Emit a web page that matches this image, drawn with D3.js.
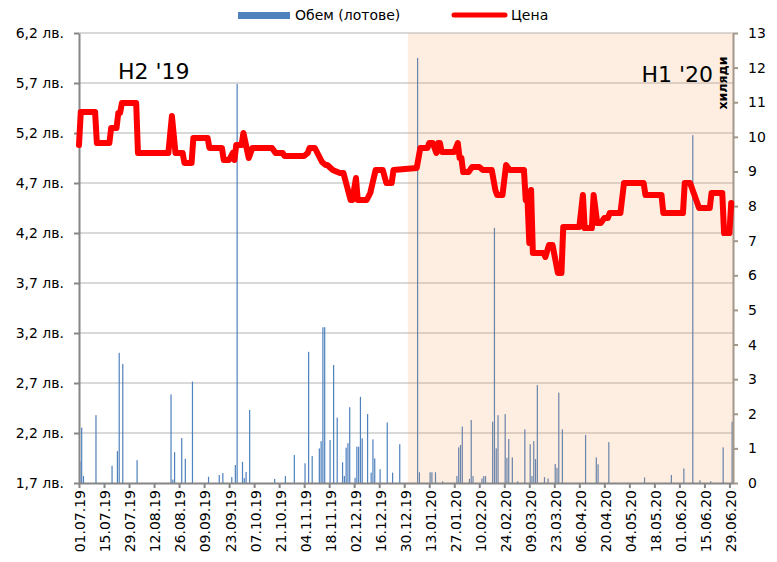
<!DOCTYPE html>
<html>
<head>
<meta charset="utf-8">
<script src="https://cdn.jsdelivr.net/npm/d3@7"></script>
<style>
  body { margin: 0; background: #fff; }
  text { font-family: "DejaVu Sans", sans-serif; fill: #000; }
</style>
</head>
<body>
<div id="viz"></div>
<script>
const width = 777;
const height = 562;
const plot = { left: 79, right: 733, top: 33, bottom: 483 };

// Цена - точки от линията (дата, лв.)
const priceDates = [
  "2019-07-01","2019-07-02","2019-07-10","2019-07-11","2019-07-18","2019-07-19","2019-07-22","2019-07-23",
  "2019-07-24","2019-07-25","2019-08-02","2019-08-03","2019-08-20","2019-08-22","2019-08-24","2019-08-28",
  "2019-08-29","2019-09-02","2019-09-03","2019-09-11","2019-09-12","2019-09-19","2019-09-20","2019-09-23",
  "2019-09-25","2019-09-26","2019-09-27","2019-09-30","2019-10-01","2019-10-04","2019-10-06","2019-10-17",
  "2019-10-19","2019-10-23","2019-10-24","2019-11-04","2019-11-06","2019-11-07","2019-11-10","2019-11-14",
  "2019-11-16","2019-11-17","2019-11-20","2019-11-24","2019-11-26","2019-11-30","2019-12-01","2019-12-03",
  "2019-12-04","2019-12-09","2019-12-11","2019-12-14","2019-12-18","2019-12-20","2019-12-23","2019-12-24",
  "2020-01-06","2020-01-08","2020-01-12","2020-01-13","2020-01-15","2020-01-17","2020-01-18","2020-01-19",
  "2020-01-20","2020-01-27","2020-01-29","2020-01-30","2020-01-31","2020-02-01","2020-02-04","2020-02-06",
  "2020-02-10","2020-02-12","2020-02-17","2020-02-19","2020-02-20","2020-02-23","2020-02-25","2020-02-27",
  "2020-03-06","2020-03-07","2020-03-08","2020-03-09","2020-03-10","2020-03-11","2020-03-17","2020-03-18",
  "2020-03-20","2020-03-22","2020-03-25","2020-03-27","2020-03-28","2020-04-06","2020-04-08","2020-04-09",
  "2020-04-13","2020-04-14","2020-04-16","2020-04-18","2020-04-20","2020-04-22","2020-04-23","2020-04-29",
  "2020-05-01","2020-05-12","2020-05-13","2020-05-22","2020-05-23","2020-06-03","2020-06-04","2020-06-07",
  "2020-06-09","2020-06-12","2020-06-18","2020-06-19","2020-06-25","2020-06-26","2020-06-29","2020-06-30"
];
const prices = [
  5.08, 5.41, 5.41, 5.10, 5.10, 5.25, 5.25, 5.40,
  5.40, 5.50, 5.50, 5.00, 5.00, 5.37, 5.00, 5.00,
  4.90, 4.90, 5.15, 5.15, 5.05, 5.05, 4.93, 4.93,
  5.00, 4.93, 5.08, 5.08, 5.20, 4.95, 5.05, 5.05,
  5.00, 5.00, 4.97, 4.97, 5.00, 5.05, 5.05, 4.91,
  4.88, 4.88, 4.83, 4.80, 4.80, 4.53, 4.53, 4.75,
  4.53, 4.53, 4.60, 4.83, 4.83, 4.70, 4.70, 4.83,
  4.85, 5.05, 5.05, 5.10, 5.10, 5.00, 5.10, 5.10,
  5.01, 5.01, 5.10, 4.95, 4.95, 4.81, 4.81, 4.86,
  4.86, 4.83, 4.83, 4.63, 4.58, 4.58, 4.88, 4.83,
  4.83, 4.53, 4.53, 4.10, 4.63, 4.00, 4.00, 3.96,
  4.08, 4.08, 3.80, 3.80, 4.26, 4.26, 4.58, 4.25,
  4.25, 4.58, 4.30, 4.30, 4.35, 4.35, 4.40, 4.40,
  4.70, 4.70, 4.58, 4.58, 4.40, 4.40, 4.70, 4.70,
  4.60, 4.45, 4.45, 4.60, 4.60, 4.20, 4.20, 4.50
];

// Обем (хиляди лотове)
const volumeDates = [
  "2019-07-01","2019-07-02","2019-07-03","2019-07-10","2019-07-19","2019-07-22","2019-07-23","2019-07-25",
  "2019-08-02","2019-08-21","2019-08-22","2019-08-23","2019-08-27","2019-08-29","2019-09-02","2019-09-11",
  "2019-09-17","2019-09-19","2019-09-24","2019-09-26","2019-09-27","2019-09-30","2019-10-01","2019-10-02",
  "2019-10-04","2019-10-18","2019-10-24","2019-10-29","2019-11-04","2019-11-06","2019-11-08","2019-11-12",
  "2019-11-13","2019-11-14","2019-11-15","2019-11-18","2019-11-20","2019-11-22","2019-11-25","2019-11-26",
  "2019-11-27","2019-11-28","2019-11-29","2019-12-02","2019-12-03","2019-12-04","2019-12-05","2019-12-06",
  "2019-12-09","2019-12-11","2019-12-12","2019-12-13","2019-12-16","2019-12-20","2019-12-23","2019-12-27",
  "2020-01-06","2020-01-07","2020-01-13","2020-01-14","2020-01-16","2020-01-20","2020-01-28","2020-01-29",
  "2020-01-30","2020-01-31","2020-02-04","2020-02-05","2020-02-06","2020-02-11","2020-02-12","2020-02-13",
  "2020-02-17","2020-02-18","2020-02-19","2020-02-20","2020-02-24","2020-02-25","2020-02-26","2020-02-28",
  "2020-03-02","2020-03-06","2020-03-09","2020-03-10","2020-03-11","2020-03-12","2020-03-13","2020-03-17",
  "2020-03-19","2020-03-23","2020-03-24","2020-03-25","2020-03-27","2020-04-09","2020-04-15","2020-04-16",
  "2020-04-22","2020-05-12","2020-05-27","2020-06-03","2020-06-08","2020-06-12","2020-06-18","2020-06-25",
  "2020-06-30"
];
const volumes = [
  0.62, 1.60, 0.20, 1.96, 0.50, 0.92, 3.76, 3.44,
  0.66, 2.56, 0.10, 0.89, 1.30, 0.70, 2.93, 0.18,
  0.23, 0.29, 0.17, 0.52, 11.53, 0.61, 0.14, 0.32,
  2.11, 0.12, 0.20, 0.81, 0.57, 3.79, 0.78, 1.00,
  1.21, 4.50, 4.50, 1.24, 3.41, 1.89, 0.60, 0.20,
  1.02, 1.15, 2.19, 0.15, 1.05, 1.05, 2.49, 1.29,
  1.99, 0.30, 1.26, 0.71, 0.40, 1.75, 0.30, 1.12,
  12.28, 0.31, 0.31, 0.31, 0.31, 0.05, 0.20, 1.03,
  1.10, 1.63, 0.12, 1.82, 0.20, 0.13, 0.20, 0.20,
  1.77, 7.37, 1.00, 1.96, 1.99, 0.73, 1.27, 0.74,
  0.05, 1.55, 1.12, 0.20, 1.21, 0.69, 2.83, 0.17,
  0.13, 0.55, 0.44, 2.61, 1.55, 1.39, 0.74, 0.54,
  1.18, 0.16, 0.23, 0.42, 10.05, 0.08, 0.05, 1.03,
  1.77
];

const xTicks = [
  "2019-07-01","2019-07-15","2019-07-29","2019-08-12","2019-08-26","2019-09-09","2019-09-23",
  "2019-10-07","2019-10-21","2019-11-04","2019-11-18","2019-12-02","2019-12-16","2019-12-30",
  "2020-01-13","2020-01-27","2020-02-10","2020-02-24","2020-03-09","2020-03-23","2020-04-06",
  "2020-04-20","2020-05-04","2020-05-18","2020-06-01","2020-06-15","2020-06-29"
];
const priceTicks = [1.7, 2.2, 2.7, 3.2, 3.7, 4.2, 4.7, 5.2, 5.7, 6.2];
const volumeTicks = [0, 1, 2, 3, 4, 5, 6, 7, 8, 9, 10, 11, 12, 13];

const parse = d3.utcParse("%Y-%m-%d");

const svg = d3.select("#viz")
  .append("svg")
  .attr("width", width)
  .attr("height", height);

const x = d3.scaleUtc()
  .domain([parse("2019-07-01"), parse("2020-07-01")])
  .range([plot.left, plot.right]);

const yPrice = d3.scaleLinear()
  .domain([1.7, 6.2])
  .range([plot.bottom, plot.top]);

const yVol = d3.scaleLinear()
  .domain([0, 13])
  .range([plot.bottom, plot.top]);

// gridlines
svg.append("g")
  .selectAll("line")
  .data(priceTicks.slice(1))
  .join("line")
  .attr("x1", plot.left)
  .attr("x2", plot.right)
  .attr("y1", d => yPrice(d))
  .attr("y2", d => yPrice(d))
  .attr("stroke", "#d9d9d9")
  .attr("stroke-width", 2);

// volume bars
const bars = volumeDates.map((d, i) => ({ date: parse(d), value: volumes[i] }));
svg.append("g")
  .selectAll("rect")
  .data(bars)
  .join("rect")
  .attr("x", d => x(d3.utcHour.offset(d.date, 12)) - 0.6)
  .attr("width", 1.2)
  .attr("y", d => yVol(d.value))
  .attr("height", d => yVol(0) - yVol(d.value))
  .attr("fill", "#4f81bd");

// H1 '20 shading
svg.append("rect")
  .attr("x", x(parse("2020-01-01")))
  .attr("y", plot.top)
  .attr("width", plot.right - x(parse("2020-01-01")))
  .attr("height", plot.bottom - plot.top)
  .attr("fill", "#f79646")
  .attr("fill-opacity", 0.16);

// axes
const xAxis = svg.append("g")
  .attr("transform", `translate(0, ${plot.bottom})`)
  .call(d3.axisBottom(x)
    .tickValues(xTicks.map(parse))
    .tickFormat(d3.utcFormat("%d.%m.%y"))
    .tickSize(5)
    .tickSizeOuter(0));
xAxis.selectAll("text")
  .attr("transform", "rotate(-90)")
  .attr("x", -7)
  .attr("y", 1)
  .attr("dy", "0.35em")
  .attr("text-anchor", "end");

const leftAxis = svg.append("g")
  .attr("transform", `translate(${plot.left}, 0)`)
  .call(d3.axisLeft(yPrice)
    .tickValues(priceTicks)
    .tickFormat(d => d3.format(".1f")(d).replace(".", ",") + " лв.")
    .tickSize(5)
    .tickPadding(10)
    .tickSizeOuter(0));

const rightAxis = svg.append("g")
  .attr("transform", `translate(${plot.right}, 0)`)
  .call(d3.axisRight(yVol)
    .tickValues(volumeTicks)
    .tickSize(5)
    .tickPadding(10)
    .tickSizeOuter(0));

svg.selectAll(".tick text")
  .style("font-family", "DejaVu Sans")
  .style("font-size", "14px")
  .attr("fill", "#000");
[xAxis, leftAxis].forEach(a => {
  a.selectAll("path, line").attr("stroke", "#868686").attr("stroke-width", 2);
});
rightAxis.selectAll("path, line").attr("stroke", "#a3968a").attr("stroke-width", 2);

// price line
const points = priceDates.map((d, i) => ({ date: parse(d), value: prices[i] }));
const line = d3.line()
  .x(d => x(d.date))
  .y(d => yPrice(d.value));

svg.append("path")
  .datum(points)
  .attr("d", line)
  .attr("fill", "none")
  .attr("stroke", "#ff0000")
  .attr("stroke-width", 6)
  .attr("stroke-linejoin", "round")
  .attr("stroke-linecap", "round");

// period labels
svg.append("text")
  .attr("x", 118)
  .attr("y", 79)
  .style("font-size", "22px")
  .text("H2 '19");

svg.append("text")
  .attr("x", 713)
  .attr("y", 82)
  .attr("text-anchor", "end")
  .style("font-size", "22px")
  .text("H1 '20");

svg.append("text")
  .attr("transform", "translate(727, 83) rotate(-90)")
  .attr("text-anchor", "middle")
  .attr("textLength", 53)
  .attr("lengthAdjust", "spacingAndGlyphs")
  .style("font-size", "13px")
  .style("font-weight", "bold")
  .text("хиляди");

// legend
const legend = svg.append("g");
legend.append("rect")
  .attr("x", 238).attr("y", 12)
  .attr("width", 52).attr("height", 7)
  .attr("fill", "#4f81bd");
legend.append("text")
  .attr("x", 295).attr("y", 20)
  .style("font-size", "14px")
  .text("Обем (лотове)");
legend.append("line")
  .attr("x1", 454).attr("x2", 505)
  .attr("y1", 15).attr("y2", 15)
  .attr("stroke", "#ff0000")
  .attr("stroke-width", 5)
  .attr("stroke-linecap", "round");
legend.append("text")
  .attr("x", 511).attr("y", 20)
  .style("font-size", "14px")
  .text("Цена");
</script>
</body>
</html>
